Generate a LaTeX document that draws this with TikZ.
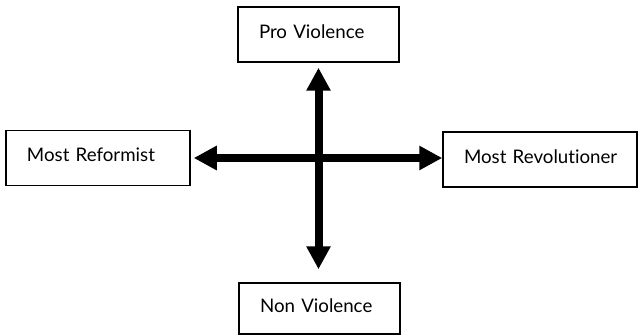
\documentclass[tikz,border=0pt]{standalone}
\usepackage{fontspec}
\setmainfont{Lato}[Ligatures=NoCommon]
\usetikzlibrary{arrows.meta}

\begin{document}
\begin{tikzpicture}[x=1pt,y=1pt,
        stance/.style={draw,line width=1.5pt,minimum height=55pt,inner xsep=21pt,align=left,text height=13pt,text depth=5pt,font=\fontsize{18.7}{20}\selectfont},
        axisarrow/.style={line width=8pt,{Triangle[width=23pt,length=23pt]}-{Triangle[width=23pt,length=23pt]}}]
        \useasboundingbox (0,0) rectangle (639,335);
        \node[stance,text width=119pt] (pro) at (318.5,300.5) {\mbox{Pro Violence}};
        \node[stance,text width=142pt] (ref) at (98,177) {\mbox{Most Reformist}};
        \node[stance,text width=152pt] (rev) at (540,175.5) {\mbox{Most Revolutioner}};
        \node[stance,text width=119pt,minimum height=51pt] (non) at (319.5,26.5) {\mbox{Non Violence}};
        \draw[axisarrow] ([xshift=3pt]ref.east) -- (ref.east -| rev.west);
        \draw[axisarrow] ([yshift=-5pt]pro.south) -- ([yshift=13pt]pro.south |- non.north);
\end{tikzpicture}
\end{document}
